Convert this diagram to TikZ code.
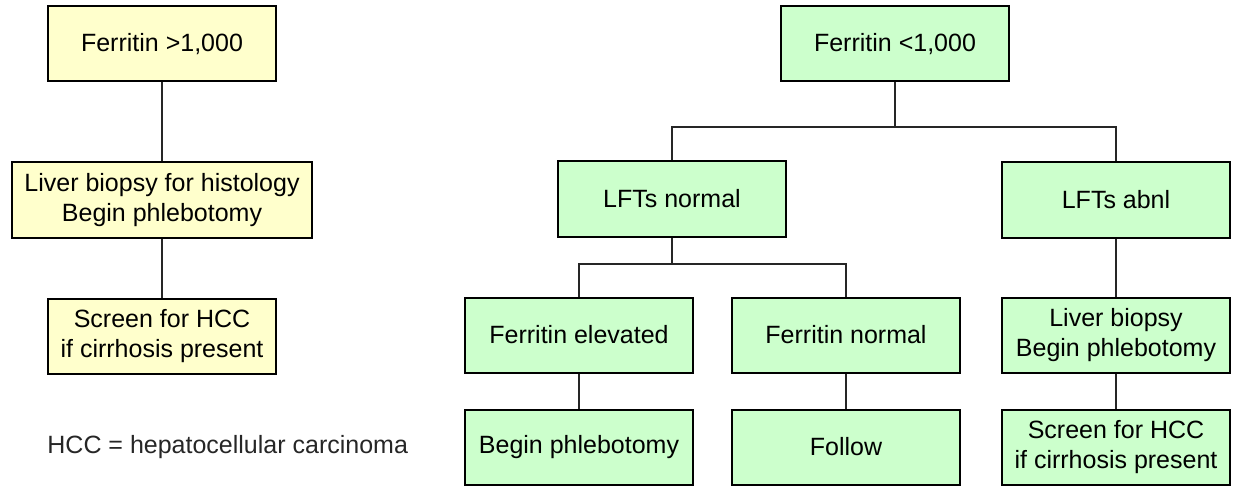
\documentclass[tikz,border=0pt]{standalone}
\usepackage{fontspec}
\setmainfont{Liberation Sans}
\usepackage{tikz}
\usetikzlibrary{positioning}

\definecolor{paleyellow}{HTML}{FFFFCC}
\definecolor{palegreen}{HTML}{CCFFCC}

\begin{document}
\begin{tikzpicture}[
    box/.style={draw=black,line width=1pt,minimum width=114pt,minimum height=37.5pt,
      align=center,font=\fontsize{12.5}{15}\selectfont,inner sep=2pt},
    yellowbox/.style={box,fill=paleyellow},
    greenbox/.style={box,fill=palegreen},
    link/.style={line width=1pt,draw=black!85}
  ]
      \useasboundingbox (0,0) rectangle (620pt,-243pt);

      % left branch
      \node[yellowbox] (1) at (81pt,-22pt) {Ferritin >1,000};
      \node[yellowbox,below of=1,node distance=78pt,minimum width=150pt] (2) {Liver biopsy for histology\\Begin phlebotomy};
      \node[yellowbox,below of=2,node distance=68pt] (3) {Screen for HCC\\if cirrhosis present};

      % right branch
      \node[greenbox,right of=1,node distance=366.5pt] (5) {Ferritin <1,000};
      \node[greenbox,below of=5,node distance=77.5pt,xshift=-111.5pt] (6) {LFTs normal};
      \node[greenbox,right of=6,node distance=222pt,yshift=-0.5pt] (7) {LFTs abnl};
      \node[greenbox,below of=6,node distance=68pt,xshift=-46.5pt] (8) {Ferritin elevated};
      \node[greenbox,right of=8,node distance=133.5pt] (9) {Ferritin normal};
      \node[greenbox,below of=7,node distance=67.5pt] (10) {Liver biopsy\\Begin phlebotomy};
      \node[greenbox,below of=8,node distance=56pt] (11) {Begin phlebotomy};
      \node[greenbox,below of=9,node distance=56pt] (12) {Follow};
      \node[greenbox,below of=10,node distance=56pt] (13) {Screen for HCC\\if cirrhosis present};

      \node[anchor=west,inner sep=0pt,font=\fontsize{12.5}{15}\selectfont,text=black!85] (4) at (3.west |- 11) {HCC = hepatocellular carcinoma};

      \coordinate[below of=5,node distance=41.5pt] (s5);
      \coordinate[below of=6,node distance=32.5pt] (s6);

      \draw[link] (1) -- (2);
      \draw[link] (2) -- (3);
      \draw[link] (5) -- (s5);
      \draw[link] (6.north) |- (s5) -| (7.north);
      \draw[link] (6) -- (s6);
      \draw[link] (8.north) |- (s6) -| (9.north);
      \draw[link] (7) -- (10);
      \draw[link] (8) -- (11);
      \draw[link] (9) -- (12);
      \draw[link] (10) -- (13);
    \end{tikzpicture}
\end{document}
